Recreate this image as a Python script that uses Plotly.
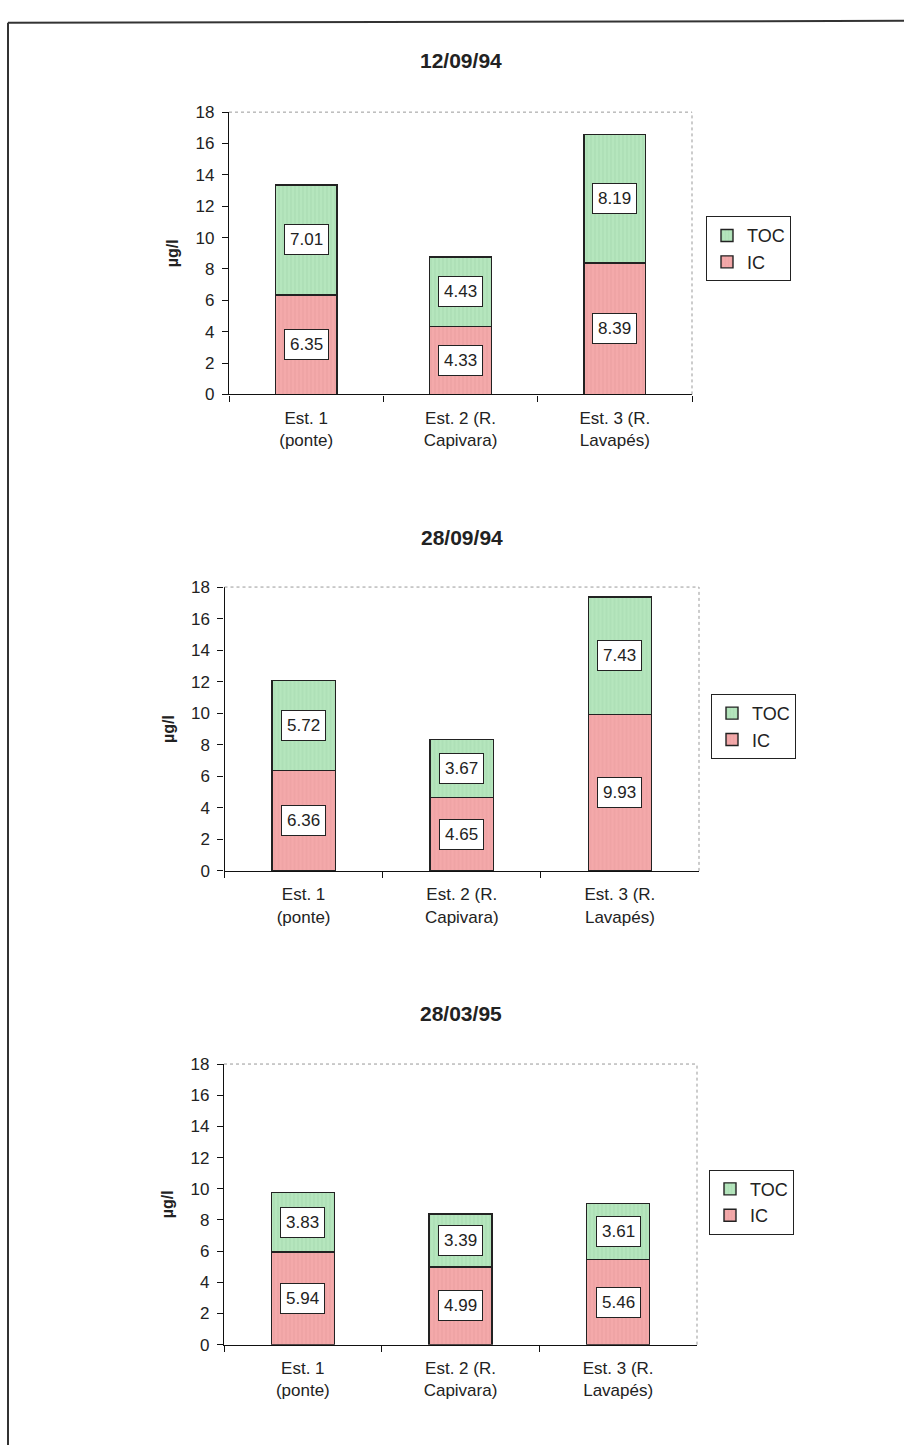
import plotly.graph_objects as go

W, H = 904, 1455

categories = ["Est. 1<br>(ponte)", "Est. 2 (R.<br>Capivara)", "Est. 3 (R.<br>Lavapés)"]
dates = ["12/09/94", "28/09/94", "28/03/95"]
ic_values = [
    [6.35, 4.33, 8.39],
    [6.36, 4.65, 9.93],
    [5.94, 4.99, 5.46],
]
toc_values = [
    [7.01, 4.43, 8.19],
    [5.72, 3.67, 7.43],
    [3.83, 3.39, 3.61],
]
y_ticks = [0, 2, 4, 6, 8, 10, 12, 14, 16, 18]

IC_COLOR = "#f4a9aa"
TOC_COLOR = "#b5e6bd"
FONT = "Liberation Sans, Arial, sans-serif"

# pixel geometry of each panel: plot area (left, right, top, bottom), legend (left, top), title y
panels = [
    dict(x0=229, x1=692, y0=104.5, y1=390.5, lx=706, ly=210, ty=52),
    dict(x0=224.5, x1=699, y0=585.7, y1=873.3, lx=711, ly=694, ty=535),
    dict(x0=224, x1=697, y0=1069, y1=1353.3, lx=709, ly=1176, ty=1018),
]

def px(x):
    return x / W

def py(y):
    return 1 - y / H

fig = go.Figure()
annotations = []
shapes = []
layout_axes = {}

for i, p in enumerate(panels):
    n = "" if i == 0 else str(i + 1)
    xa, ya = "x" + n, "y" + n
    leg = "legend" + n
    fig.add_trace(go.Bar(
        x=categories, y=ic_values[i], name="IC", xaxis=xa, yaxis=ya,
        marker=dict(color=IC_COLOR, line=dict(color="#222", width=1.4),
                    pattern=dict(shape="|", fgcolor="#d98c8c", fgopacity=0.35, size=4, solidity=0.25)),
        width=0.4, legend=leg, hoverinfo="skip",
    ))
    fig.add_trace(go.Bar(
        x=categories, y=toc_values[i], name="TOC", xaxis=xa, yaxis=ya,
        marker=dict(color=TOC_COLOR, line=dict(color="#222", width=1.4),
                    pattern=dict(shape="|", fgcolor="#8fc79a", fgopacity=0.35, size=4, solidity=0.25)),
        width=0.4, legend=leg, hoverinfo="skip",
    ))
    layout_axes["xaxis" + n] = dict(
        domain=[px(p["x0"]), px(p["x1"])], anchor=ya, type="category",
        showline=True, linecolor="#111", linewidth=1.3,
        ticks="outside", tickson="boundaries", ticklen=6, tickcolor="#111",
        ticklabelstandoff=8,
        tickfont=dict(family=FONT, size=17, color="#222"), showgrid=False,
        fixedrange=True,
    )
    layout_axes["yaxis" + n] = dict(
        domain=[py(p["y1"]), py(p["y0"])], anchor=xa, range=[0, 18],
        tickvals=y_ticks, showline=True, linecolor="#111", linewidth=1.3,
        ticks="outside", ticklen=6, tickcolor="#111", showgrid=False,
        ticklabelstandoff=4,
        tickfont=dict(family=FONT, size=17, color="#222"), zeroline=False,
        title=dict(text="<b>µg/l</b>", font=dict(family=FONT, size=16, color="#222"), standoff=12),
        fixedrange=True,
    )
    layout_axes[leg] = dict(
        x=px(p["lx"]), y=py(p["ly"]), xanchor="left", yanchor="top",
        bordercolor="#222", borderwidth=1, bgcolor="white",
        font=dict(family=FONT, size=18, color="#222"), traceorder="reversed",
        itemwidth=30, tracegroupgap=0,
    )
    # dotted top/right frame of the plot area
    xd = "x" + n + " domain"
    yd = "y" + n + " domain"
    shapes.append(dict(type="line", xref=xd, yref=yd, x0=0, x1=1, y0=1, y1=1,
                       line=dict(color="#999", width=1, dash="dot")))
    shapes.append(dict(type="line", xref=xd, yref=yd, x0=1, x1=1, y0=0, y1=1,
                       line=dict(color="#999", width=1, dash="dot")))
    # panel title
    annotations.append(dict(
        text="<b>" + dates[i] + "</b>", xref="paper", yref="paper",
        x=px((p["x0"] + p["x1"]) / 2), y=py(p["ty"]), xanchor="center", yanchor="middle",
        showarrow=False, font=dict(family=FONT, size=21, color="#222"),
    ))
    # value labels in white boxes
    for j, c in enumerate(categories):
        ic = ic_values[i][j]
        toc = toc_values[i][j]
        for val, mid in ((ic, ic / 2), (toc, ic + toc / 2)):
            annotations.append(dict(
                text=f"{val:.2f}", x=c, y=mid, xref=xa, yref=ya,
                showarrow=False, bgcolor="white", bordercolor="#222", borderwidth=1,
                borderpad=5, font=dict(family=FONT, size=17, color="#222"),
                xanchor="center", yanchor="middle",
            ))

# outer page frame (top and left edges)
shapes.append(dict(type="line", xref="paper", yref="paper", x0=px(8), x1=1, y0=py(14), y1=py(12),
                   line=dict(color="#333", width=2)))
shapes.append(dict(type="line", xref="paper", yref="paper", x0=px(8), x1=px(8), y0=py(14), y1=0,
                   line=dict(color="#333", width=2)))

fig.update_layout(
    width=W, height=H, margin=dict(l=0, r=0, t=0, b=0),
    paper_bgcolor="white", plot_bgcolor="white", barmode="stack",
    showlegend=True, annotations=annotations, shapes=shapes,
    font=dict(family=FONT, color="#222"),
    **layout_axes,
)

fig.write_html("out.html")
